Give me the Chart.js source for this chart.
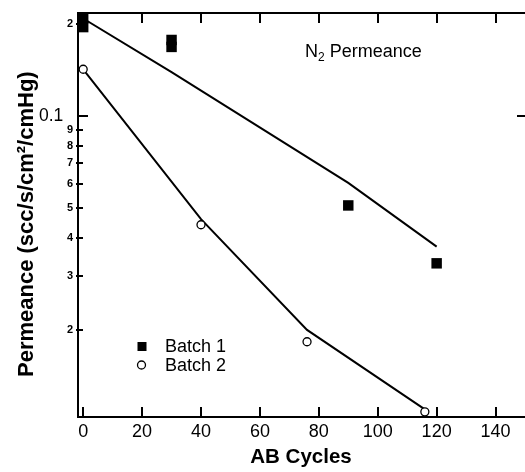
<!DOCTYPE html>
<html>
<head>
<meta charset="utf-8">
<script src="https://cdn.jsdelivr.net/npm/chart.js@4.4.1/dist/chart.umd.min.js"></script>
<style>
  html, body { margin: 0; padding: 0; background: #fff; }
</style>
</head>
<body>
<canvas id="perm" width="525" height="472"></canvas>
<script>
// values
const batch1X = [0, 0, 30, 30, 90, 120];
const batch1Y = [0.208, 0.195, 0.177, 0.168, 0.051, 0.033];
const batch2X = [0, 40, 76, 116];
const batch2Y = [0.142, 0.0441, 0.0183, 0.0108];
// fitted curves
const fit1X = [0, 30, 90, 120];
const fit1Y = [0.208, 0.139, 0.0604, 0.0374];
const fit2X = [0, 40, 76, 116];
const fit2Y = [0.142, 0.046, 0.020, 0.011];

const xTicks = [0, 20, 40, 60, 80, 100, 120, 140];
const yTicks = [0.02, 0.03, 0.04, 0.05, 0.06, 0.07, 0.08, 0.09, 0.1, 0.2];
const yTickLabels = ['2', '3', '4', '5', '6', '7', '8', '9', '0.1  ', '2'];
const seriesNames = ['Batch 1', 'Batch 2'];

const FONT = "'Liberation Sans', Arial, Helvetica, sans-serif";
Chart.defaults.font.family = FONT;
Chart.defaults.color = '#000';

const pts = (xs, ys) => xs.map((x, i) => ({ x: x, y: ys[i] }));

// frame, inward ticks, legend and the N2 label
const decorations = {
  id: 'decorations',
  afterDatasetsDraw(chart) {
    const { ctx, chartArea: a, scales: { x, y } } = chart;
    ctx.save();
    ctx.strokeStyle = '#000';
    ctx.lineWidth = 2;
    ctx.beginPath();
    ctx.moveTo(a.left + 1, a.top);
    ctx.lineTo(a.left + 1, a.bottom);
    ctx.moveTo(a.left, a.bottom);
    ctx.lineTo(a.right, a.bottom);
    ctx.moveTo(a.left, a.top);
    ctx.lineTo(a.right, a.top);
    ctx.stroke();

    ctx.beginPath();
    xTicks.forEach(v => {
      const px = Math.round(x.getPixelForValue(v));
      ctx.moveTo(px, a.bottom);
      ctx.lineTo(px, a.bottom - 10);
      ctx.moveTo(px, a.top);
      ctx.lineTo(px, a.top + 10);
    });
    yTicks.forEach(v => {
      const py = Math.round(y.getPixelForValue(v));
      if (v === 0.1) {
        ctx.moveTo(a.left + 1, py);
        ctx.lineTo(a.left + 11, py);
        ctx.moveTo(a.right, py);
        ctx.lineTo(a.right - 8, py);
      } else {
        ctx.moveTo(a.left - 1, py);
        ctx.lineTo(a.left + 6, py);
      }
    });
    ctx.stroke();
    ctx.restore();
  },
  afterDraw(chart) {
    const ctx = chart.ctx;
    ctx.save();
    ctx.fillStyle = '#000';
    ctx.textBaseline = 'middle';
    ctx.font = '18px ' + FONT;

    // legend
    ctx.fillRect(137.5, 342, 9, 9);
    ctx.beginPath();
    ctx.arc(141.5, 365, 4, 0, Math.PI * 2);
    ctx.lineWidth = 1.3;
    ctx.strokeStyle = '#000';
    ctx.stroke();
    ctx.fillText(seriesNames[0], 165, 347);
    ctx.fillText(seriesNames[1], 165, 366);

    // N2 Permeance
    ctx.textBaseline = 'alphabetic';
    ctx.fillText('N', 305, 57);
    const nw = ctx.measureText('N').width;
    ctx.font = '12px ' + FONT;
    ctx.fillText('2', 305 + nw, 61);
    const sw = ctx.measureText('2').width;
    ctx.font = '18px ' + FONT;
    ctx.fillText(' Permeance', 305 + nw + sw, 57);
    ctx.restore();
  }
};

new Chart(document.getElementById('perm'), {
  type: 'scatter',
  data: {
    datasets: [
      {
        label: seriesNames[0],
        data: pts(batch1X, batch1Y),
        pointStyle: 'rect',
        pointRadius: 7.4,
        backgroundColor: '#000',
        borderColor: '#000',
        borderWidth: 0,
        clip: false
      },
      {
        label: seriesNames[1],
        data: pts(batch2X, batch2Y),
        pointStyle: 'circle',
        pointRadius: 4,
        backgroundColor: '#fff',
        borderColor: '#000',
        borderWidth: 1.3,
        clip: false
      },
      {
        label: 'fit 1',
        data: pts(fit1X, fit1Y),
        showLine: true,
        pointRadius: 0,
        borderColor: '#000',
        borderWidth: 2,
        tension: 0
      },
      {
        label: 'fit 2',
        data: pts(fit2X, fit2Y),
        showLine: true,
        pointRadius: 0,
        borderColor: '#000',
        borderWidth: 2,
        tension: 0
      }
    ]
  },
  options: {
    responsive: false,
    animation: false,
    devicePixelRatio: 1,
    layout: { autoPadding: false, padding: { top: 13, right: 0, left: 0, bottom: 0 } },
    plugins: {
      legend: { display: false },
      tooltip: { enabled: false }
    },
    scales: {
      x: {
        type: 'linear',
        min: -2.1,
        max: 150,
        afterBuildTicks: s => { s.ticks = xTicks.map(v => ({ value: v })); },
        afterFit: s => { s.height = 55; s.paddingLeft = 0; s.paddingRight = 0; },
        grid: { display: false, drawTicks: false },
        border: { display: false },
        ticks: { font: { size: 18 }, padding: 4, autoSkip: false, maxRotation: 0 },
        title: {
          display: true,
          text: 'AB Cycles',
          font: { size: 20.5, weight: 'bold' },
          padding: { top: 0, bottom: 2 }
        }
      },
      y: {
        type: 'logarithmic',
        min: 0.01039,
        max: 0.2168,
        afterBuildTicks: s => { s.ticks = yTicks.map(v => ({ value: v })); },
        afterFit: s => { s.width = 77; s.paddingTop = 0; s.paddingBottom = 0; },
        grid: { display: false, drawTicks: false },
        border: { display: false },
        ticks: {
          autoSkip: false,
          padding: 4,
          callback: (v, i) => yTickLabels[i],
          font: c => (c.tick && c.tick.value === 0.1) ? { size: 17.5 } : { size: 11, weight: 'bold' }
        },
        title: {
          display: true,
          text: 'Permeance (scc/s/cm²/cmHg)   ',
          font: { size: 22, weight: 'bold' },
          padding: { top: 14, bottom: 0 }
        }
      }
    }
  },
  plugins: [decorations]
});
</script>
</body>
</html>
